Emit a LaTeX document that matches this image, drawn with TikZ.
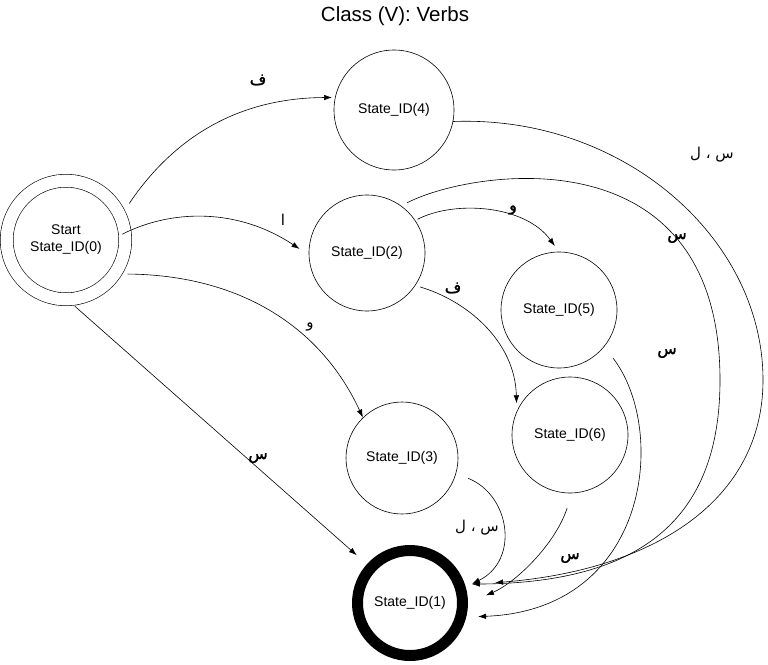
\documentclass[tikz,border=0pt]{standalone}
\usepackage{fontspec}
\setmainfont{Liberation Sans}
\newfontfamily\arabfont[Script=Arabic]{DejaVu Sans}
\newfontfamily\arabbold[Script=Arabic,FakeBold=1.5]{DejaVu Sans}
\TeXXeTstate=1
\usetikzlibrary{arrows.meta}

\begin{document}
\begin{tikzpicture}[x=1pt, y=-1pt, >={Latex[length=8pt,width=5.5pt]},
  state/.style={draw, circle, line width=0.6pt, inner sep=0pt,
                minimum size=116pt, align=center,
                font=\fontsize{14}{17}\selectfont},
  edge/.style={->, line width=0.6pt},
  lab/.style={font=\arabfont\fontsize{15}{18}\selectfont},
  labb/.style={font=\arabbold\fontsize{16}{18}\selectfont}]
  \useasboundingbox (0,0) rectangle (768,664);

  \node (title) at (395,16) {\fontsize{20.5}{24}\selectfont Class (V): Verbs};

  % states
  \node (s0) [state, double, double distance=12.3pt, minimum size=118.5pt,
              outer sep=6.75pt] at (66,240) {Start\\State\_ID(0)};
  \node (s4) [state, minimum size=120pt] at (394,110) {State\_ID(4)};
  \node (s2) [state] at (367,253) {State\_ID(2)};
  \node (s5) [state] at (559,310) {State\_ID(5)};
  \node (s6) [state] at (570,435) {State\_ID(6)};
  \node (s3) [state, minimum size=112pt] at (402,458) {State\_ID(3)};
  \node (s1) [state, line width=11pt, minimum size=105pt] at (410,603)
    {State\_ID(1)};

  % transitions out of the start state
  \draw[edge, shorten <=8pt, shorten >=3pt]
    (s0.27) .. controls (170,143) and (232,98) .. (s4.168);
  \draw[edge, shorten <=-10pt, shorten >=11pt]
    (s0.9) .. controls (172,209) and (238,208) .. (s2.182);
  \draw[edge, shorten <=5pt]
    (s0.-31) .. controls (238,275) and (320,325) .. (s3.134);
  \draw[edge, shorten <=1pt, shorten >=13.5pt] (s0.-83) -- (s1.138);

  % transitions out of state 2
  \draw[edge, shorten <=2.5pt, shorten >=7pt]
    (s2.34) .. controls (455,200) and (525,205) .. (s5.90);
  \draw[edge, shorten <=5pt, shorten >=8pt]
    (s2.-34) .. controls (465,300) and (515,340) .. (s6.156);

  % transitions into the final state
  \draw[edge, shorten >=30pt]
    (s4.-11) .. controls (623,115) and (763,238) .. (763,380)
    .. controls (763,500) and (655,570) .. (s1.18);
  \draw[edge, shorten <=6.5pt, shorten >=7pt]
    (s2.54) .. controls (470,170) and (720,130) .. (720,380)
    .. controls (720,520) and (640,583) .. (s1.19);
  \draw[edge, shorten <=14.6pt, shorten >=11.8pt]
    (s5.-39) .. controls (668,430) and (650,610) .. (s1.-14.5);
  \draw[edge, shorten <=15.5pt, shorten >=19.5pt]
    (s6.-88) .. controls (555,545) and (515,583) .. (s1.0);
  \draw[edge, shorten <=13pt, shorten >=7pt]
    (s3.-16) .. controls (510,495) and (520,560) .. (s1.16);

  % labels
  \node (l04) [labb] at (258,80) {\beginR ف\endR};
  \node (l02) [lab] at (283,220) {\beginR ا\endR};
  \node (l03) [lab] at (310,327) {\beginR و\endR};
  \node (l01) [labb] at (258,458) {\beginR س\endR};
  \node (l25) [labb] at (513,210) {\beginR و\endR};
  \node (l26) [labb] at (453,288) {\beginR ف\endR};
  \node (l41) [lab] at (712,155) {\beginR س ، ل\endR};
  \node (l21) [labb] at (677,238) {\beginR س\endR};
  \node (l51) [labb] at (667,353) {\beginR س\endR};
  \node (l31) [lab] at (477,528) {\beginR س ، ل\endR};
  \node (l61) [labb] at (570,558) {\beginR س\endR};
\end{tikzpicture}
\end{document}
